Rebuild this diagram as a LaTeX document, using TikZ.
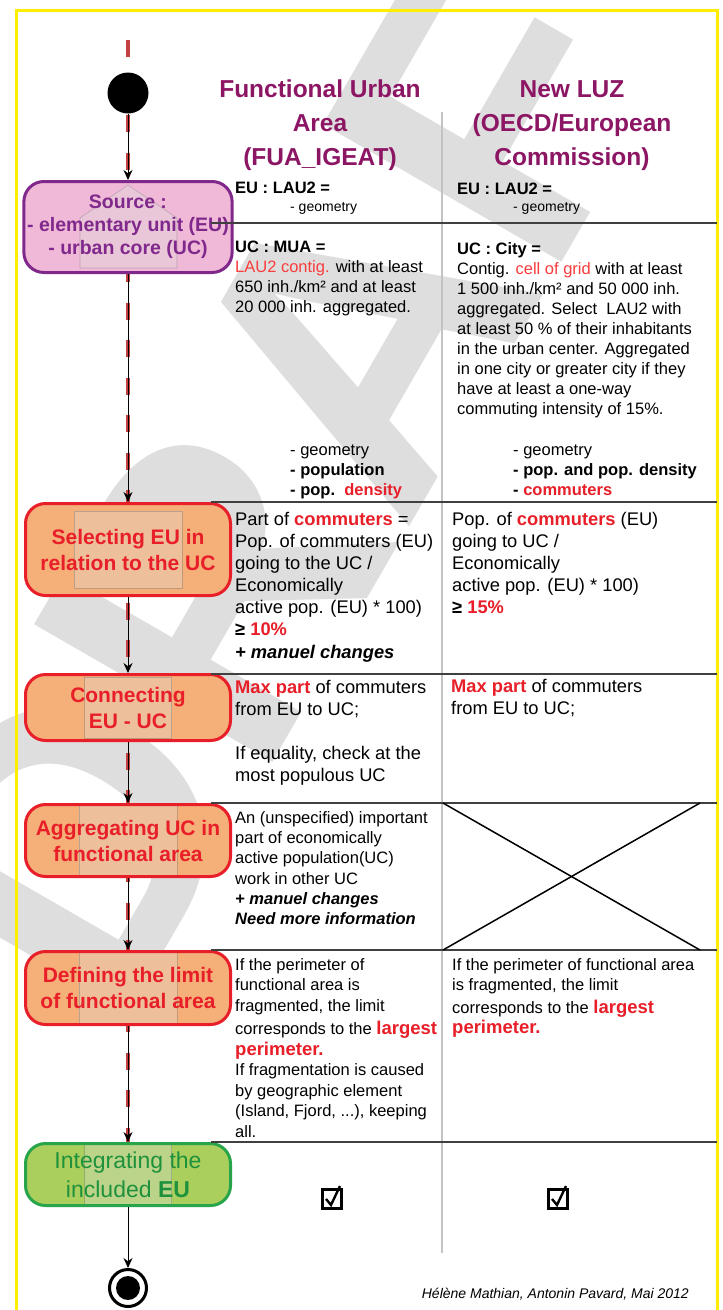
\documentclass[tikz,border=0pt]{standalone}
\usepackage{fontspec}
\setmainfont{Liberation Sans}
\usetikzlibrary{arrows.meta}
\definecolor{hdpurple}{RGB}{140,22,100}
\definecolor{srcpurple}{RGB}{128,40,140}
\definecolor{srcfill}{RGB}{240,185,215}
\definecolor{stepred}{RGB}{232,30,40}
\definecolor{lightred}{RGB}{250,60,60}
\definecolor{stepfill}{RGB}{245,175,120}
\definecolor{intgreen}{RGB}{40,165,75}
\definecolor{intfill}{RGB}{170,207,92}
\definecolor{txtgreen}{RGB}{30,145,60}
\definecolor{flowred}{RGB}{195,65,65}
\definecolor{rulegray}{RGB}{64,64,64}
\definecolor{colgray}{RGB}{195,195,195}
\definecolor{wmgray}{RGB}{222,222,222}
\definecolor{frameyellow}{RGB}{255,238,0}
\begin{document}
\begin{tikzpicture}[x=1pt,y=-1pt,
  stepbox/.style={rounded corners=20pt,line width=3pt,minimum width=205pt,align=center,font=\bfseries\fontsize{21}{26}\selectfont},
  srcbox/.style={stepbox,draw=srcpurple,fill=srcfill,text=srcpurple,font=\bfseries\fontsize{19.5}{23}\selectfont},
  redbox/.style={stepbox,draw=stepred,fill=stepfill,text=stepred},
  greenbox/.style={stepbox,draw=intgreen,fill=intfill,text=txtgreen,font=\fontsize{23}{29}\selectfont},
  icon/.style={sharp corners,fill=white!75!gray,fill opacity=0.35,draw=gray,draw opacity=0.45,line width=0.6pt},
  panel/.style args={#1 and #2}{path picture={\draw[icon] ([shift={(-#1,-#2)}]path picture bounding box.center) rectangle ([shift={(#1,#2)}]path picture bounding box.center);}},
  house/.style={path picture={\coordinate (hc) at (path picture bounding box.center);
    \draw[icon] ([shift={(-48,-9)}]hc) -- ([shift={(0,-42)}]hc) -- ([shift={(49,-9)}]hc) -- ([shift={(49,41)}]hc) -- ([shift={(-48,41)}]hc) -- cycle;}},
  flow/.style={-{Stealth[length=10pt,width=9pt]},line width=1pt},
  rowrule/.style={rulegray,line width=1.5pt},
  cell/.style={anchor=north west,inner sep=0pt,align=left,font=\fontsize{16.5}{20}\selectfont},
  cellbig/.style={cell,font=\fontsize{18.3}{22}\selectfont},
  checkbox/.style={draw,line width=2.2pt,minimum size=19pt,inner sep=0pt},
  head/.style={anchor=north,inner sep=0pt,align=center,text=hdpurple,font=\bfseries\fontsize{24.5}{34}\selectfont}]
 \useasboundingbox (0,0) rectangle (723,1310);
 \fill[white] (0,0) rectangle (723,1310);
 \begin{scope}
  \clip (0,0) rectangle (723,1310);
  \node[rotate=60,text=wmgray,font=\bfseries\fontsize{400}{400}\selectfont] (draftmark) at (335,380) {DRAFT};
 \end{scope}
 \draw[frameyellow,line width=3pt] (16,10) rectangle (717,1314);
 \draw[colgray,line width=2.5pt] (442,112) -- (442,1253);
 \coordinate (spinetop) at (128,40);
 \coordinate (spinebottom) at (128,1142);
 \draw[flowred,line width=3.5pt,dash pattern=on 17pt off 20.5pt] (spinetop) -- (spinebottom);
 \node[circle,fill=black,minimum size=41pt,inner sep=0pt] (start) at (128,93) {};
 \node[head] (fuahead) at (320,80) {Functional Urban\\Area\\(FUA\_IGEAT)};
 \node[head] (luzhead) at (572,80) {New LUZ\\(OECD/European\\Commission)};
 \node[srcbox,house,minimum height=91pt] (source) at (128,227) {Source :\\- elementary unit (EU)\\- urban core (UC)};
 \node[redbox,panel=54 and 38.5,minimum height=92pt] (select) at (128,549.5) {Selecting EU in\\relation to the UC};
 \node[redbox,panel=43.5 and 30.5,minimum height=66pt] (connect) at (128,707.5) {Connecting\\EU - UC};
 \node[redbox,panel=49 and 37.5,minimum height=72pt] (aggr) at (128,840.5) {Aggregating UC in\\functional area};
 \node[redbox,panel=49 and 36,minimum height=73pt] (limit) at (128,988) {Defining the limit\\of functional area};
 \node[greenbox,panel=43.5 and 32.5,minimum height=62pt] (integ) at (128,1174.5) {Integrating the\\included \textbf{EU}};
 \node[circle,draw=black,line width=3pt,minimum size=37pt,inner sep=0pt] (end) at (128,1288) {};
 \node[circle,fill=black,minimum size=24pt,inner sep=0pt] (endcore) at (end) {};
 \draw[flow] (start) -- (source);
 \draw[flow] (source) -- (select);
 \draw[flow] (select) -- (connect);
 \draw[flow] (connect) -- (aggr);
 \draw[flow] (aggr) -- (limit);
 \draw[flow] (limit) -- (integ);
 \draw[flow] (integ) -- (end);
 \draw[rowrule] (211,223) -- (717,223);
 \draw[rowrule] (211,502) -- (717,502);
 \draw[rowrule] (211,674) -- (717,674);
 \draw[rowrule] (211,803) -- (717,803);
 \draw[rowrule] (211,950) -- (717,950);
 \draw[rowrule] (211,1142) -- (717,1142);
 \draw[line width=1.5pt] (443,803) -- (700,950);
 \draw[line width=1.5pt] (443,950) -- (700,803);
 \node[cell,font=\bfseries\fontsize{16.5}{20}\selectfont] (fuaeu) at (235,182) {EU : LAU2 =};
 \node[anchor=base west,inner sep=0pt,font=\fontsize{14}{17}\selectfont] (fuageo) at (290,211) {- geometry};
 \node[cell,font=\bfseries\fontsize{16.5}{20}\selectfont] (luzeu) at (457,183) {EU : LAU2 =};
 \node[anchor=base west,inner sep=0pt,font=\fontsize{14}{17}\selectfont] (luzgeo) at (513,211) {- geometry};
 \node[cell] (fuamua) at (235,241) {\textbf{UC : MUA =}\\\textcolor{lightred}{LAU2 contig.} with at least\\650 inh./km² and at least\\20 000 inh. aggregated.};
 \node[cell] (luzcity) at (457,242) {\textbf{UC : City =}\\Contig. \textcolor{lightred}{cell of grid} with at least\\1 500 inh./km² and 50 000 inh.\\aggregated. Select\ \ LAU2 with\\at least 50 \% of their inhabitants\\in the urban center. Aggregated\\in one city or greater city if they\\have at least a one-way\\commuting intensity of 15\%.};
 \node[cell] (fuavars) at (290,445) {- geometry\\\textbf{- population}\\\textbf{- pop.}\ \ \textcolor{stepred}{\textbf{density}}};
 \node[cell] (luzvars) at (513,445) {- geometry\\\textbf{- pop. and pop. density}\\\textbf{- \textcolor{stepred}{commuters}}};
 \node[cellbig] (fuashare) at (235,512) {Part of \textcolor{stepred}{\textbf{commuters}} =\\Pop. of commuters (EU)\\going to the UC /\\Economically\\active pop. (EU) * 100)\\\textbf{≥ \textcolor{stepred}{10\%}}\\[1pt]\textbf{\textit{+ manuel changes}}};
 \node[cellbig] (luzshare) at (452,512) {Pop. of \textcolor{stepred}{\textbf{commuters}} (EU)\\going to UC /\\Economically\\active pop. (EU) * 100)\\\textbf{≥ \textcolor{stepred}{15\%}}};
 \node[cellbig] (fuamax) at (235,680) {\textcolor{stepred}{\textbf{Max part}} of commuters\\from EU to UC;\\[22pt]If equality, check at the\\most populous UC};
 \node[cellbig] (luzmax) at (451,679) {\textcolor{stepred}{\textbf{Max part}} of commuters\\from EU to UC;};
 \node[cell,font=\fontsize{16.5}{20.3}\selectfont] (fuaaggr) at (235,811) {An (unspecified) important\\part of economically\\active population(UC)\\work in other UC\\\textbf{\textit{+ manuel changes}}\\\textbf{\textit{Need more information}}};
 \node[cell,font=\fontsize{16.5}{20.5}\selectfont] (fualimit) at (235,958) {If the perimeter of\\functional area is\\fragmented, the limit\\[3pt]corresponds to the \textcolor{stepred}{\bfseries\fontsize{18.5}{20}\selectfont largest}\\\textcolor{stepred}{\bfseries\fontsize{18.5}{20}\selectfont perimeter.}\\If fragmentation is caused\\by geographic element\\(Island, Fjord, ...), keeping\\all.};
 \node[cell] (luzlimit) at (452,958) {If the perimeter of functional area\\is fragmented, the limit\\[3pt]corresponds to the \textcolor{stepred}{\bfseries\fontsize{18.5}{20}\selectfont largest}\\\textcolor{stepred}{\bfseries\fontsize{18.5}{20}\selectfont perimeter.}};
 \node[checkbox] (fuacheck) at (332,1199) {};
 \node[checkbox] (luzcheck) at (558,1199) {};
 \draw[line width=2.4pt] ([shift={(-6,0)}]fuacheck.center) -- ([shift={(-1,6)}]fuacheck.center) -- ([shift={(8,-13)}]fuacheck.center);
 \draw[line width=2.4pt] ([shift={(-6,0)}]luzcheck.center) -- ([shift={(-1,6)}]luzcheck.center) -- ([shift={(8,-13)}]luzcheck.center);
 \node[anchor=base east,inner sep=0pt,font=\itshape\fontsize{14}{16}\selectfont] (credit) at (689,1298) {Hélène Mathian, Antonin Pavard, Mai 2012};
\end{tikzpicture}
\end{document}
